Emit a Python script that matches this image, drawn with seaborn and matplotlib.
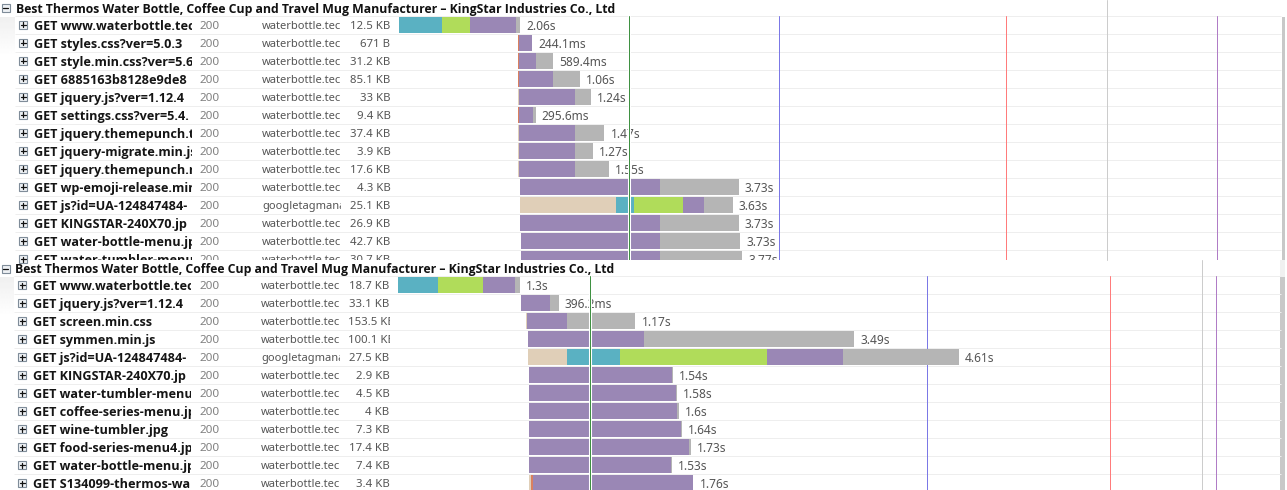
#!/usr/bin/env python3
"""
Two request waterfalls stacked in one picture (same site, two test runs)
"""

import numpy as np
import matplotlib
matplotlib.use('Agg')
import matplotlib.pyplot as plt
from matplotlib.patches import Rectangle
from matplotlib.transforms import Bbox, TransformedBbox, blended_transform_factory
import seaborn as sns

sns.set_theme(style='white')
plt.rcParams['font.family'] = ['Noto Sans', 'DejaVu Sans']
BOLD = ['Open Sans', 'DejaVu Sans']

page_title = 'Best Thermos Water Bottle, Coffee Cup and Travel Mug Manufacturer – KingStar Industries Co., Ltd'

# ============================================================================
# FIRST RUN
# ============================================================================
top_names = ['www.waterbottle.tec', 'styles.css?ver=5.0.3', 'style.min.css?ver=5.6',
             '6885163b8128e9de8', 'jquery.js?ver=1.12.4', 'settings.css?ver=5.4.',
             'jquery.themepunch.t', 'jquery-migrate.min.js', 'jquery.themepunch.r',
             'wp-emoji-release.min', 'js?id=UA-124847484-', 'KINGSTAR-240X70.jp',
             'water-bottle-menu.jp', 'water-tumbler-menu']
top_domains = ['waterbottle.tec'] * 10 + ['googletagmana'] + ['waterbottle.tec'] * 3
top_sizes = ['12.5 KB', '671 B', '31.2 KB', '85.1 KB', '33 KB', '9.4 KB', '37.4 KB',
             '3.9 KB', '17.6 KB', '4.3 KB', '25.1 KB', '26.9 KB', '42.7 KB', '30.7 KB']
top_labels = ['2.06s', '244.1ms', '589.4ms', '1.06s', '1.24s', '295.6ms', '1.47s',
              '1.27s', '1.55s', '3.73s', '3.63s', '3.73s', '3.73s', '3.77s']
# all timings in seconds
top_start = [0, 2.03, 2.03, 2.03, 2.03, 2.03, 2.03, 2.03, 2.03, 2.06, 2.06, 2.06, 2.08, 2.08]
top_blocked = [0, 0, 0, 0, .02, 0, .02, .02, .02, 0, 1.64, 0, 0, 0]
top_connect = [0, .02, .02, .02, 0, .02, 0, 0, 0, 0, 0, 0, 0, 0]
top_dns = [.73, 0, 0, 0, 0, 0, 0, 0, 0, 0, .31, 0, 0, 0]
top_ssl = [.48, 0, 0, 0, 0, 0, 0, 0, 0, 0, .82, 0, 0, 0]
top_wait = [.78, .22, .29, .58, .94, .24, .94, .94, .94, 2.39, .37, 2.39, 2.37, 2.37]
top_receive = [.07, 0, .28, .46, .28, .04, .51, .31, .59, 1.34, .49, 1.34, 1.36, 1.40]
top_events = [3.92, 6.47, 10.34, 12.06, 13.94]

# ============================================================================
# SECOND RUN
# ============================================================================
bottom_names = ['www.waterbottle.tec', 'jquery.js?ver=1.12.4', 'screen.min.css', 'symmen.min.js',
                'js?id=UA-124847484-', 'KINGSTAR-240X70.jp', 'water-tumbler-menu.',
                'coffee-series-menu.jp', 'wine-tumbler.jpg', 'food-series-menu4.jp',
                'water-bottle-menu.jp', 'S134099-thermos-wa']
bottom_domains = ['waterbottle.tec'] * 4 + ['googletagmana'] + ['waterbottle.tec'] * 7
bottom_sizes = ['18.7 KB', '33.1 KB', '153.5 KB', '100.1 KB', '27.5 KB', '2.9 KB',
                '4.5 KB', '4 KB', '7.3 KB', '17.4 KB', '7.4 KB', '3.4 KB']
bottom_labels = ['1.3s', '396.2ms', '1.17s', '3.49s', '4.61s', '1.54s',
                 '1.58s', '1.6s', '1.64s', '1.73s', '1.53s', '1.76s']
bottom_start = [0, 1.32, 1.37, 1.39, 1.39, 1.40, 1.40, 1.40, 1.40, 1.40, 1.40, 1.40]
bottom_blocked = [0, 0, .01, 0, .42, 0, 0, 0, 0, 0, 0, .02]
bottom_connect = [0, 0, 0, 0, 0, 0, 0, 0, 0, 0, 0, .02]
bottom_dns = [.43, 0, 0, 0, .56, 0, 0, 0, 0, 0, 0, 0]
bottom_ssl = [.48, 0, 0, 0, 1.58, 0, 0, 0, 0, 0, 0, 0]
bottom_wait = [.34, .31, .43, 1.24, .81, 1.53, 1.57, 1.58, 1.63, 1.71, 1.52, 1.72]
bottom_receive = [.05, .09, .73, 2.25, 1.24, .01, .01, .02, .01, .02, .01, 0]
bottom_events = [2.05, 5.66, 7.61, 8.60, 8.75]

# Phase colours, in stacking order
phase_colors = ['#E0CFB8', '#D9805F', '#5AB1C2', '#B0DC5A', '#9A87B5', '#B5B5B5']
event_colors = ['#3F9142', '#7B78E6', '#FF7B7B', '#CCCCCC', '#B07CC6']

W, H = 1287, 490
ROW = 18
PX = 0.72  # one pixel in points
TEXT_DY = 0.06  # row text sits a touch below the row centre
fig = plt.figure(figsize=(W / 100, H / 100), dpi=100, facecolor='white')

# Base axes in pixels, for the list furniture
base = fig.add_axes([0, 0, 1, 1])
base.axis('off')
fade = np.linspace(0.94, 1, 40).reshape(-1, 1)
base.imshow(fade, extent=[0, 15, 57, 17], aspect='auto', cmap='gray', vmin=0, vmax=1)
base.imshow(fade, extent=[0, 14, 317, 277], aspect='auto', cmap='gray', vmin=0, vmax=1)
base.set_xlim(0, W)
base.set_ylim(H, 0)


def clip_px(x0, y0, x1, y1):
    return TransformedBbox(Bbox([[x0, y0], [x1, y1]]), base.transData)


def clipped(artist, box):
    # ax.text resets the clip box to the axes, so it has to be set afterwards
    artist.set_clip_on(True)
    artist.set_clip_box(box)


def toggle(x, y, size, plus=True):
    base.add_patch(Rectangle((x - size / 2, y - size / 2), size, size, fc='#EEF1F4', ec='#7F8C99', lw=0.8))
    base.plot([x - 2.5, x + 2.5], [y, y], color='#111111', lw=0.9)
    if plus:
        base.plot([x, x], [y - 2.5, y + 2.5], color='#111111', lw=0.9)


def draw_group(title_y, first_center, panel_bottom, x_zero, px_per_s, dx, names, domains, sizes, labels,
               start, phases, events, gray_top):
    n_rows = len(names)
    panel_top = first_center - ROW / 2

    # Row separators
    for i in range(n_rows):
        y = panel_top + i * ROW
        base.plot([15 + dx, 1281], [y, y], color='#EEEEEE', lw=PX, solid_capstyle='butt')

    # Group header
    toggle(5.5, title_y - 0.5, 8, plus=False)
    base.text(16 + dx, title_y, page_title, fontsize=8.8, fontweight='bold', family=BOLD,
              color='#111111', va='center')

    ax = fig.add_axes([0, 1 - panel_bottom / H, 1281 / W, (panel_bottom - panel_top) / H], zorder=3)
    ax.patch.set_alpha(0)

    # Event lines sit behind the bars, except the first one
    for t, c in list(zip(events, event_colors))[1:]:
        if c == '#CCCCCC':
            ax.axvline(t, ymax=1 + (panel_top - gray_top) / (panel_bottom - panel_top), color=c, lw=PX,
                       clip_on=False, zorder=0)
        else:
            ax.axvline(t, color=c, lw=PX, zorder=0)

    rows = np.arange(n_rows)
    left = np.array(start, dtype=float)
    for values, color in zip(phases, phase_colors):
        values = np.array(values, dtype=float)
        sns.barplot(x=values, y=rows, order=rows, orient='h', left=left, color=color, saturation=1,
                    width=16 / ROW, errorbar=None, linewidth=0, ax=ax, zorder=2)
        left = left + values

    ax.set_xlim(-x_zero / px_per_s, (1281 - x_zero) / px_per_s)
    ax.set_ylim((panel_bottom - first_center) / ROW, -0.5)
    ax.axis('off')

    # Columns
    row_tf = blended_transform_factory(base.transData, ax.transData)
    for i in rows:
        y = first_center + i * ROW
        ty = i + TEXT_DY
        if y - 6 < panel_bottom:
            toggle(23 + dx, y, 8)
        t = ax.text(34 + dx, ty, 'GET ' + names[i], transform=row_tf, fontsize=9.1, fontweight='bold',
                    family=BOLD, color='#151515', va='center')
        clipped(t, clip_px(0, panel_top, 192 + dx, panel_bottom))
        t = ax.text(200 + dx, ty, '200', transform=row_tf, fontsize=8.4, color='#808080', va='center')
        clipped(t, clip_px(0, panel_top, W, panel_bottom))
        t = ax.text(262 + dx, ty, domains[i], transform=row_tf, fontsize=8.0, color='#555555', va='center')
        clipped(t, clip_px(0, panel_top, 341 + dx, panel_bottom))
        if len(sizes[i]) > 7:
            t = ax.text(349 + dx, ty, sizes[i], transform=row_tf, fontsize=8.2, color='#555555', va='center')
        else:
            t = ax.text(390.5 + dx, ty, sizes[i], transform=row_tf, fontsize=8.2, color='#555555',
                        va='center', ha='right')
        clipped(t, clip_px(0, panel_top, 390.5 + dx, panel_bottom))
        ann = ax.annotate(labels[i], (left[i], ty), xytext=(4.3, 0), textcoords='offset points', fontsize=8.6,
                          color='#555555', va='center', zorder=4, annotation_clip=False)
        clipped(ann, clip_px(0, panel_top, W, panel_bottom))

    # First event line cuts a white slot through bars and text
    ax.axvline(events[0], color='white', lw=2.2, zorder=5)
    ax.axvline(events[0], color=event_colors[0], lw=PX, zorder=6)


top_phases = [top_blocked, top_connect, top_dns, top_ssl, top_wait, top_receive]
bottom_phases = [bottom_blocked, bottom_connect, bottom_dns, bottom_ssl, bottom_wait, bottom_receive]

draw_group(9, 25, 260, 399, 58.7, 0, top_names, top_domains, top_sizes, top_labels,
           top_start, top_phases, top_events, 0)
draw_group(269, 285, 490, 398, 93.5, -1, bottom_names, bottom_domains, bottom_sizes, bottom_labels,
           bottom_start, bottom_phases, bottom_events, 260)

# Scrollbar on the right edge
base.add_patch(Rectangle((1282, 17), 3, 243, fc='#C8C8C8', ec='none'))
base.add_patch(Rectangle((1280, 260), 5, 17, fc='#F0F0F0', ec='none'))
base.add_patch(Rectangle((1280, 277), 5, 213, fc='#C8C8C8', ec='none'))

fig.savefig('out.png', dpi=100, facecolor='white')
